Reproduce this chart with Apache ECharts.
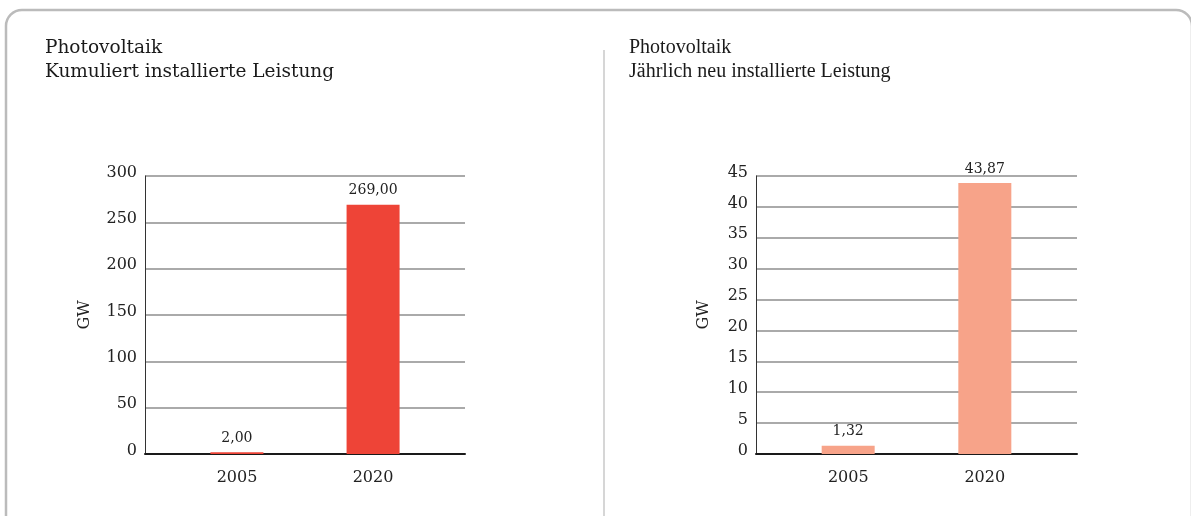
<!DOCTYPE html>
<html><head><meta charset="utf-8">
<script src="https://cdn.jsdelivr.net/npm/echarts@6/dist/echarts.min.js"></script>
<style>html,body{margin:0;padding:0;background:#fff;}#c{width:1191px;height:516px;}</style>
</head><body><div id="c"></div>
<script>
const categories = ['2005', '2020'];
const leftTitle = 'Photovoltaik\nKumuliert installierte Leistung';
const rightTitle = 'Photovoltaik\nJährlich neu installierte Leistung';
const leftValues = [2.00, 269.00];
const rightValues = [1.32, 43.87];
const leftAxis = {min: 0, max: 300, interval: 50};
const rightAxis = {min: 0, max: 45, interval: 5};
const unit = 'GW';

const SERIF = '"DejaVu Serif", serif';
const fmt = v => v.toFixed(2).replace('.', ',');

function makeAxes(gi, ax, nameGap) {
  return {
    x: {type: 'category', gridIndex: gi, data: categories,
        axisLine: {lineStyle: {color: '#1a1a1a', width: 2}}, axisTick: {show: false},
        axisLabel: {color: '#222', fontFamily: SERIF, fontSize: 16, margin: 16,
          // labels sit under the bars, which are shifted toward the middle
          formatter: (v, i) => i === 0 ? '{r|' + v + '}' : '{l|' + v + '}',
          rich: {r: {fontFamily: SERIF, fontSize: 16, color: '#222', padding: [0, 0, 0, 24]},
                 l: {fontFamily: SERIF, fontSize: 16, color: '#222', padding: [0, 24, 0, 0]}}},
    },
    y: {type: 'value', gridIndex: gi, min: ax.min, max: ax.max, interval: ax.interval,
        name: unit, nameLocation: 'middle', nameRotate: 90, nameGap: nameGap,
        nameTextStyle: {color: '#222', fontFamily: SERIF, fontSize: 16},
        axisLine: {show: true, lineStyle: {color: '#333', width: 1}}, axisTick: {show: false},
        axisLabel: {color: '#222', fontFamily: SERIF, fontSize: 16, margin: 8,
          formatter: v => '{t|' + v + '}',
          rich: {t: {fontFamily: SERIF, fontSize: 16, color: '#222', padding: [0, 0, 7, 0]}}},
        splitLine: {lineStyle: {color: '#aaaaaa', width: 2}}}
  };
}
function makeSeries(gi, vals, color) {
  const lab = {show: true, position: 'top', distance: 7, color: '#222', fontFamily: SERIF, fontSize: 14,
               formatter: p => fmt(p.value)};
  const common = {type: 'bar', xAxisIndex: gi, yAxisIndex: gi, barWidth: 53, barGap: '-55%',
                  itemStyle: {color: color}, label: lab, silent: true};
  // later category sits in the left slot, earlier one in the right slot
  return [
    Object.assign({}, common, {data: vals.map((v, i) => i === 1 ? v : '-')}),
    Object.assign({}, common, {data: vals.map((v, i) => i === 0 ? v : '-')})
  ];
}
const L = makeAxes(0, leftAxis, 52), R = makeAxes(1, rightAxis, 44);
const chart = echarts.init(document.getElementById('c'));
chart.setOption({
  animation: false,
  title: [
    {text: leftTitle, left: 45, top: 36, padding: 0, textStyle: {fontFamily: SERIF, fontWeight: 'normal', fontSize: 18.5, lineHeight: 24, color: '#1a1a1a'}},
    {text: rightTitle, left: 629, top: 36, padding: 0, textStyle: {fontFamily: '"Liberation Serif", serif', fontWeight: 'normal', fontSize: 20, lineHeight: 24, color: '#1a1a1a'}}
  ],
  grid: [
    {left: 145, top: 176, width: 320, height: 278, outerBoundsMode: 'none'},
    {left: 756, top: 176, width: 321, height: 278, outerBoundsMode: 'none'}
  ],
  xAxis: [L.x, R.x],
  yAxis: [L.y, R.y],
  series: makeSeries(0, leftValues, '#EE4437').concat(makeSeries(1, rightValues, '#F7A389')),
  graphic: [
    {type: 'rect', shape: {x: 6, y: 10, width: 1186, height: 600, r: 16}, style: {fill: 'none', stroke: '#bbbbbb', lineWidth: 2.5}, silent: true},
    {type: 'line', shape: {x1: 604, y1: 50, x2: 604, y2: 516}, style: {stroke: '#c8c8c8', lineWidth: 1.5}, silent: true}
  ]
});
</script></body></html>
